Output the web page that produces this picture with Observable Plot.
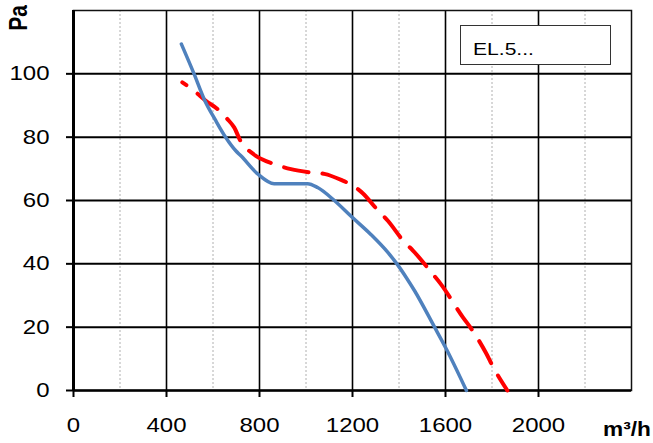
<!DOCTYPE html>
<html><head><meta charset="utf-8">
<script src="https://cdn.jsdelivr.net/npm/d3@7"></script>
<script src="https://cdn.jsdelivr.net/npm/@observablehq/plot@0.6"></script>
<style>
body{margin:0;background:#fff;}
#wrap{position:relative;width:653px;height:443px;overflow:hidden;}
#legend{position:absolute;left:460px;top:25px;width:151px;height:40px;border:1px solid #333;box-sizing:border-box;background:#fff;font-family:"Liberation Sans",Arial,sans-serif;font-size:17px;line-height:17px;}
#legend span{position:absolute;left:12px;top:14.6px;transform:scaleX(1.24);transform-origin:left center;white-space:nowrap;color:#000;}
</style>
</head><body>
<div id="wrap"><div id="legend"><span>EL.5...</span></div></div>
<script>
// Data
const flowBlue = [464, 519, 562, 612, 655, 698, 720, 792, 863, 1007, 1050, 1122, 1194, 1280, 1352, 1395, 1431, 1467, 1553, 1603, 1690];
const paBlue   = [109.4, 99.9, 92, 85.2, 79.9, 75.7, 74.1, 68.4, 65.3, 65.3, 64.1, 60, 55, 49.2, 43.6, 39.6, 35.7, 31.5, 20, 13.2, 0];
const flowRed  = [468, 519, 569, 619, 662, 691, 720, 741, 784, 863, 935, 1014, 1079, 1151, 1201, 1244, 1302, 1352, 1424, 1460, 1539, 1580, 1675, 1711, 1776, 1805, 1866];
const paRed    = [97.3, 94.6, 91.5, 88.9, 85.7, 83.1, 78.6, 76.7, 74.1, 71.5, 69.9, 68.9, 68.4, 66.5, 64.7, 62.3, 57.5, 53.6, 46.8, 44.2, 37.3, 33.6, 23.1, 19.5, 11.6, 7.4, 0];
const xTicks = [0, 400, 800, 1200, 1600, 2000];
const xMajorGrid = [400, 800, 1200, 1600, 2000];
const xMinorGrid = [200, 600, 1000, 1400, 1800, 2200];
const yTicks = [0, 20, 40, 60, 80, 100];
const yGrid = [20, 40, 60, 80, 100];
const legendLabel = "EL.5...";
const yLabel = "Pa";
const xLabel = "m³/h";

const blue = flowBlue.map((f, i) => ({flow: f, pa: paBlue[i]}));
const red = flowRed.map((f, i) => ({flow: f, pa: paRed[i]}));

const chart = Plot.plot({
  width: 653,
  height: 443,
  marginLeft: 73,
  marginRight: 22,
  marginTop: 10,
  marginBottom: 53,
  style: {fontFamily: '"Liberation Sans", Arial, sans-serif', fontSize: "20px", background: "white", color: "#000"},
  x: {domain: [0, 2400]},
  y: {domain: [0, 120]},
  marks: [
    Plot.ruleX(xMinorGrid, {stroke: "#b0b0b0", strokeWidth: 1, strokeDasharray: "2,2"}),
    Plot.ruleX(xMajorGrid, {stroke: "#000", strokeWidth: 1.6}),
    Plot.ruleY(yGrid, {stroke: "#000", strokeWidth: 2}),
    Plot.frame({stroke: "#111", strokeWidth: 1.5}),
    Plot.ruleX([0], {stroke: "#000", strokeWidth: 3}),
    Plot.ruleY([0], {stroke: "#000", strokeWidth: 2.5}),
    Plot.axisX({ticks: xTicks, tickSize: 7, tickPadding: 20, tickFormat: d => String(d), label: null, strokeWidth: 2}),
    Plot.axisY({ticks: yTicks, tickSize: 7, tickPadding: 17, tickFormat: d => String(d), label: null, strokeWidth: 2}),
    Plot.line(red, {x: "flow", y: "pa", stroke: "#ff0000", strokeWidth: 4, strokeDasharray: "25,14", strokeLinecap: "round", curve: "monotone-x"}),
    Plot.line(blue, {x: "flow", y: "pa", stroke: "#4f81bd", strokeWidth: 3.5, curve: "monotone-x"})
  ]
});
document.getElementById("wrap").prepend(chart);
chart.style.position = "absolute";
chart.style.left = "0";
chart.style.top = "0";

const svg = d3.select(chart);
function stretch(sel, mode) {
  sel.each(function() {
    const b = this.getBBox();
    const px = mode === "end" ? b.x + b.width : b.x + b.width / 2;
    const prev = this.getAttribute("transform") || "";
    this.setAttribute("transform", `${prev} translate(${px},0) scale(1.2,1) translate(${-px},0)`);
  });
}
stretch(svg.selectAll('g[aria-label="y-axis tick label"] text'), "end");
stretch(svg.selectAll('g[aria-label="x-axis tick label"] text'), "middle");

// make the dashed line finish with a dash at its end (as in the reference)
svg.selectAll("path").each(function() {
  let el = this, dashed = false;
  while (el && el !== chart) {
    if ((el.getAttribute("stroke") || "").toLowerCase() === "#ff0000") { dashed = true; break; }
    el = el.parentNode;
  }
  if (!dashed) return;
  const L = this.getTotalLength();
  if (!isFinite(L) || L <= 0) return;
  const P = 39;
  const off = ((18 - (L % P)) % P + P) % P;
  this.style.strokeDashoffset = off + "px";
});

svg.append("text")
  .attr("transform", "translate(26.5,18) scale(1.2,1) rotate(-90)")
  .attr("text-anchor", "middle")
  .attr("font-weight", "bold")
  .attr("font-size", 21)
  .attr("fill", "#000")
  .text(yLabel);
svg.append("text")
  .attr("transform", "translate(603,435.5) scale(1.08,1)")
  .attr("text-anchor", "start")
  .attr("font-weight", "bold")
  .attr("font-size", 21)
  .attr("fill", "#000")
  .text(xLabel);
document.querySelector("#legend span").textContent = legendLabel;
</script>
</body></html>
